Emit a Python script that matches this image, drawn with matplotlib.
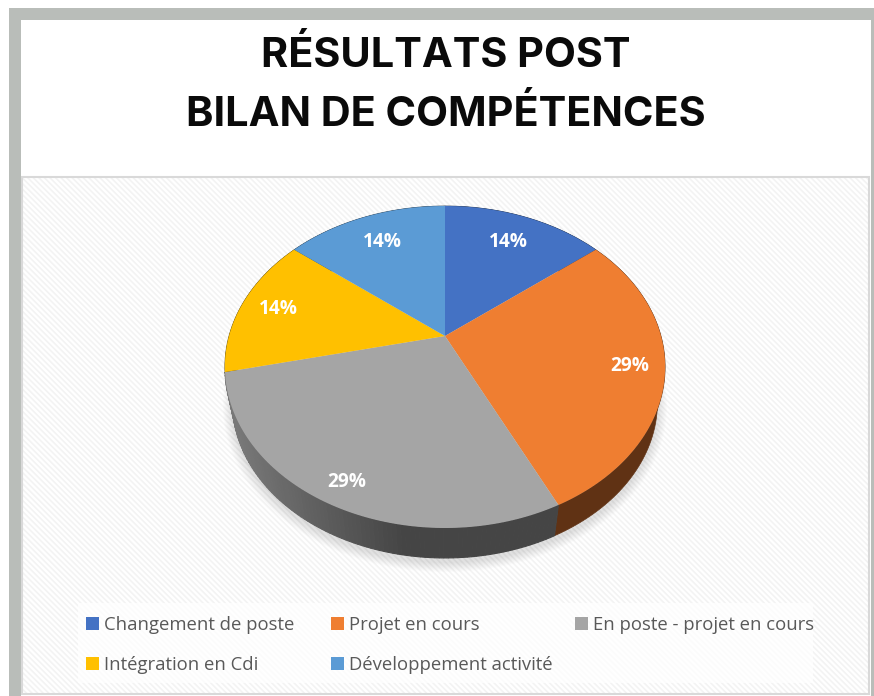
import numpy as np
import matplotlib
matplotlib.use('Agg')
import matplotlib.pyplot as plt
from matplotlib.patches import Rectangle, Ellipse
from matplotlib.colors import to_rgb

title_lines = ['RÉSULTATS POST', 'BILAN DE COMPÉTENCES']
categories = ['Changement de poste', 'Projet en cours', 'En poste - projet en cours',
              'Intégration en Cdi', 'Développement activité']
values = [1, 2, 2, 1, 1]
colors = ['#4472c4', '#ef7e31', '#a5a5a5', '#ffc000', '#5b9bd5']

# tilted disc: ellipse centre, half axes, perspective
cx, cy = 445, 367
a, b, p = 216, 161, 0.1925
c = 31
# lower rim of the wall is a bit smaller and further down
low_scale, low_cy = 0.965, 402.6


def disc(ang, r=1.0):
    # ang = clockwise from top, radians
    u, v = r * np.sin(ang), r * np.cos(ang)
    d = 1 + p * v
    return a * u / d, (b * v + c) / d


def top_rim(ang, r=1.0):
    x, y = disc(ang, r)
    return cx + x, cy - y


def low_rim(ang):
    x, y = disc(ang)
    return cx + low_scale * x, low_cy - low_scale * y


fig = plt.figure(figsize=(8.74, 6.96), dpi=100)
ax = fig.add_axes([0, 0, 1, 1])
ax.set_xlim(0, 874)
ax.set_ylim(696, 0)
ax.axis('off')

# frame
ax.add_patch(Rectangle((9, 8), 865, 688, fc='#b9bdb9', ec='none', zorder=0))
ax.add_patch(Rectangle((21, 20), 850, 676, fc='white', ec='none', zorder=0.1))

# chart panel
plt.rcParams['hatch.linewidth'] = 1.2
ax.add_patch(Rectangle((22, 177), 847, 517, fc='white', ec='#f3f3f3', lw=0,
                       hatch='\\\\\\\\\\\\', zorder=0.2))
ax.add_patch(Rectangle((22, 177), 847, 517, fc='none', ec='#d9d9d9', lw=1.5, zorder=0.3))

title_y = [67, 126]
for line, y in zip(title_lines, title_y):
    ax.text(446, y, line, ha='center', va='baseline', fontsize=29.8,
            fontweight='bold', family='Inter', color='#0a0a0a')

# soft shadow under the pie
for k in range(10):
    ax.add_patch(Ellipse((cx, low_cy + 4), 2 * (212 + 10 - k), 2 * (155.4 + 10 - k),
                         fc='black', ec='none', alpha=0.012, zorder=0.5))

fracs = np.array(values) / sum(values)
edges = np.concatenate([[0], np.cumsum(fracs)]) * 2 * np.pi

# side wall, the top face hides the back part of it
for i, col in enumerate(colors):
    angs = np.linspace(edges[i], edges[i + 1], 100)
    if i != 2:
        x0, y0 = top_rim(angs)
        x1, y1 = low_rim(angs)
        rgb = np.array(to_rgb(col)) * 0.4
        ax.fill(np.r_[x0, x1[::-1]], np.r_[y0, y1[::-1]], color=rgb, lw=0.5, zorder=1)
        continue
    # grey slice fades from the left to the front
    for j in range(len(angs) - 1):
        seg = angs[j:j + 2]
        x0, y0 = top_rim(seg)
        x1, y1 = low_rim(seg)
        t = np.clip((x0[0] - 235) / 170, 0, 1)
        g = 0.27 + 0.20 * (1 - t)
        ax.fill(np.r_[x0, x1[::-1]], np.r_[y0, y1[::-1]], color=(g, g, g), lw=0.8, zorder=1)

# top face
for i, col in enumerate(colors):
    angs = np.linspace(edges[i], edges[i + 1], 120)
    xs, ys = top_rim(angs)
    ax.fill(np.r_[cx, xs], np.r_[cy - c, ys], color=col, lw=0, zorder=2)

# data labels
lab_r = [0.76, 0.845, 0.885, 0.82, 0.76]
for i in range(len(values)):
    mid = (edges[i] + edges[i + 1]) / 2
    x, y = top_rim(mid, lab_r[i])
    ax.text(x, y, f'{100 * fracs[i]:.0f}%', ha='center', va='center', color='white',
            fontsize=13.8, fontweight='bold', family='Open Sans', zorder=3)

# legend
ax.add_patch(Rectangle((78, 603), 735, 80, fc='white', ec='none', alpha=0.75, zorder=0.4))
leg_x = [92, 337, 581, 92, 337]
leg_y = [624, 624, 624, 664, 664]
for name, col, x, y in zip(categories, colors, leg_x, leg_y):
    ax.add_patch(Rectangle((x - 6, y - 7), 13, 13, fc=col, ec='none', zorder=1))
    ax.text(x + 12, y + 1, name, ha='left', va='center', fontsize=13.3, family='Open Sans',
            color='#595959', zorder=1)

fig.savefig('out.png', dpi=100)
